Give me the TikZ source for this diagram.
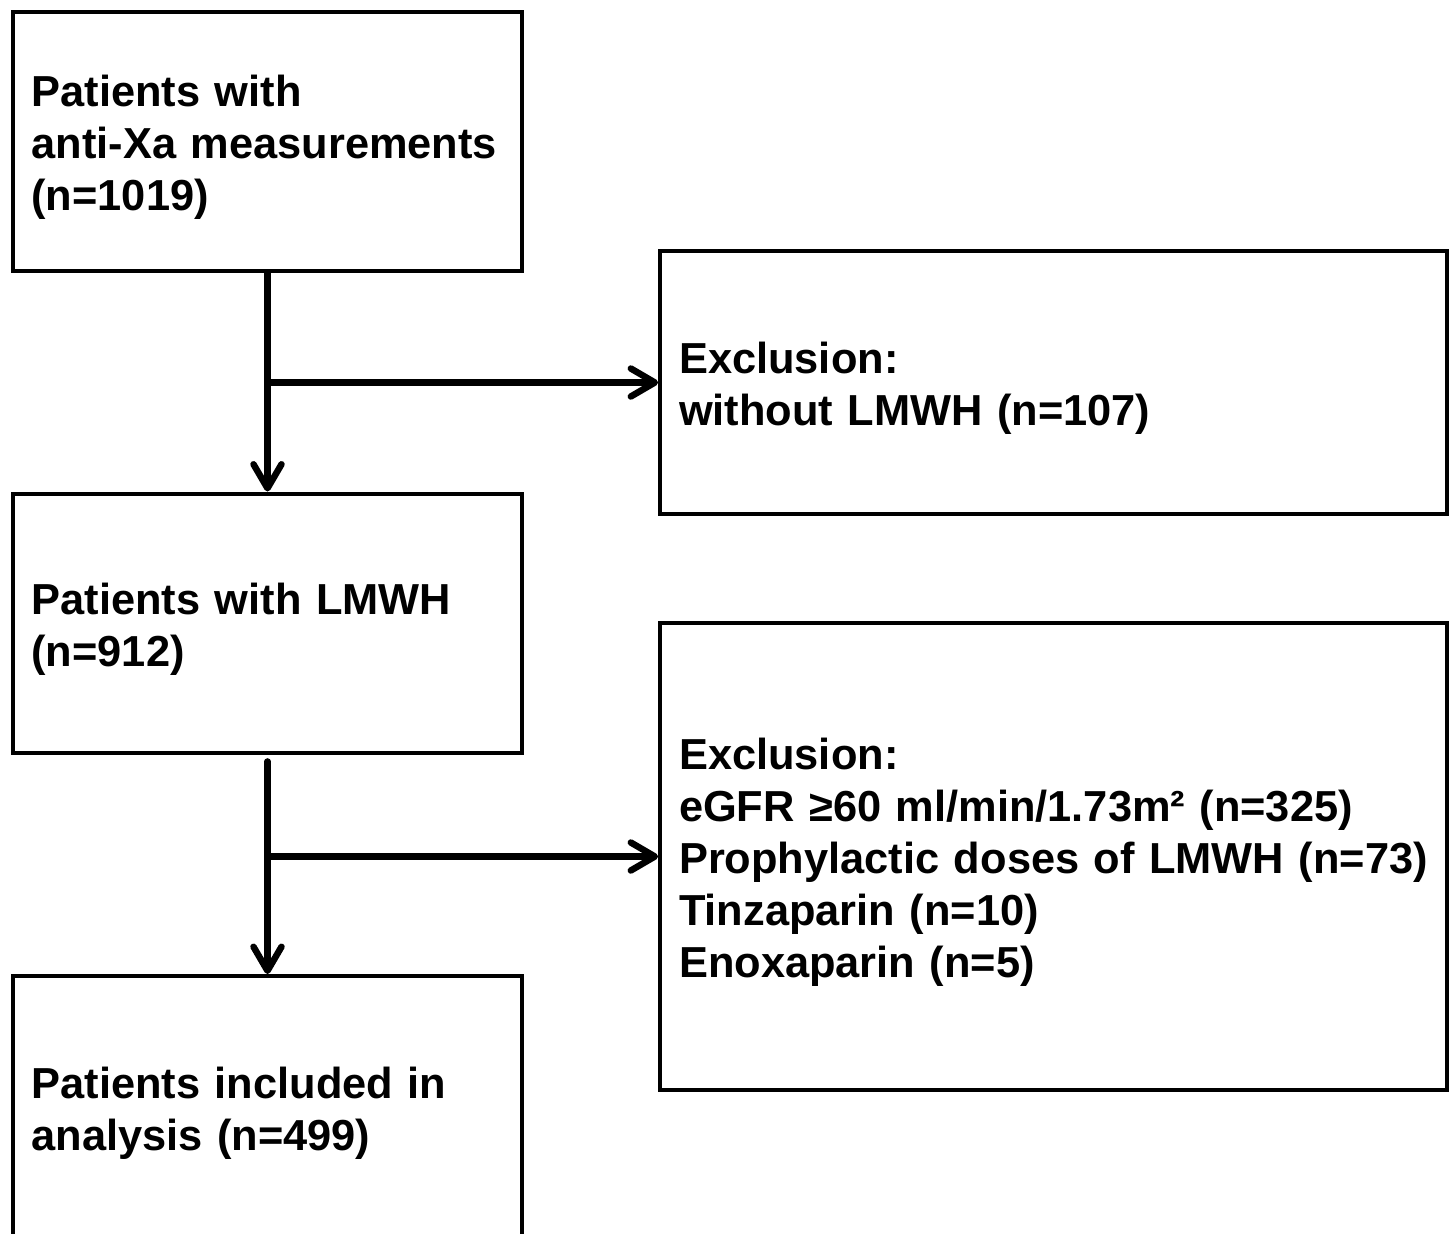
\documentclass[tikz,border=0pt]{standalone}
\usepackage{fontspec}
\setmainfont{Liberation Sans}
\usetikzlibrary{arrows.meta}

\tikzset{
  flowbox/.style={draw, rectangle, line width=0.08cm, align=left, inner xsep=0.38cm,
    font=\bfseries\fontsize{24.7pt}{29.6pt}\selectfont,
    execute at begin node={\rule{0pt}{1em}}},
  leftbox/.style={flowbox, minimum width=10.2cm, text width=9.44cm, minimum height=5.2cm},
  exclbox/.style={flowbox, minimum width=15.74cm, text width=14.98cm},
  flowarrow/.style={line width=0.13cm, line cap=round,
    -{Straight Barb[length=0.48cm, width=0.56cm, line cap=round, line join=round]}}
}

\begin{document}
\begin{tikzpicture}[x=0.02cm, y=-0.02cm]
    \useasboundingbox (0,0) rectangle (1451,1234);
    \clip (0,0) rectangle (1451,1234);
    % left column
    \node [leftbox] (start) at (267.5, 141.5) {Patients with\\anti-Xa measurements\\(n=1019)};
    \node [leftbox] (lmwh) at (267.5, 623.5) {Patients with LMWH\\(n=912)};
    \node [leftbox, minimum height=5.24cm] (incl) at (267.5, 1107) {Patients included in\\analysis (n=499)};
    % exclusions
    \node [exclbox, minimum height=5.26cm] (excla) at (1053.5, 382.5) {Exclusion:\\without LMWH (n=107)};
    \node [exclbox, minimum height=9.34cm] (exclb) at (1053.5, 856.5) {Exclusion:\\eGFR ≥60 ml/min/1.73m² (n=325)\\Prophylactic doses of LMWH (n=73)\\Tinzaparin (n=10)\\Enoxaparin (n=5)};
    % arrows
    \draw [flowarrow] (start.south) -- (lmwh.north);
    \draw [flowarrow] (start.south |- excla.west) -- (excla.west);
    \draw [flowarrow] ([yshift=-0.12cm]lmwh.south) -- (incl.north);
    \draw [flowarrow] (lmwh.south |- exclb.west) -- (exclb.west);
\end{tikzpicture}
\end{document}
